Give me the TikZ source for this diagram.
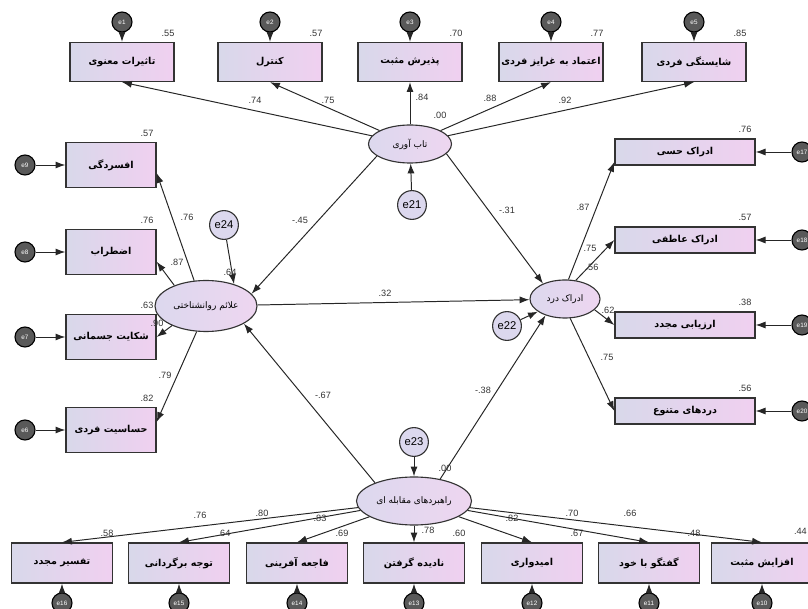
\documentclass[tikz,border=0pt]{standalone}
\usepackage{fontspec}
\setmainfont{Liberation Sans}
\newfontfamily\fafont[Script=Arabic]{DejaVu Sans}
\TeXXeTstate=1
\usetikzlibrary{arrows.meta,shapes.geometric}
\definecolor{boxl}{HTML}{D8D8EA}
\definecolor{boxr}{HTML}{F0D0F0}
\definecolor{ovl}{HTML}{DCD8EE}
\definecolor{ovr}{HTML}{EED6F0}

\tikzset{
 ind/.style={draw=black!80, line width=0.9pt, left color=boxl, right color=boxr,
   font=\fafont\bfseries\fontsize{6.8}{7}\selectfont, inner sep=1pt},
 topbox/.style={ind, minimum width=2.6cm, minimum height=0.975cm},
 leftbox/.style={ind, minimum width=2.25cm, minimum height=1.125cm},
 rightbox/.style={ind, minimum width=3.5cm, minimum height=0.65cm},
 botbox/.style={ind, minimum width=2.525cm, minimum height=1cm},
 latent/.style={ellipse, draw=black!80, line width=0.8pt, left color=ovl, right color=ovr,
   inner sep=0pt, font=\fafont\fontsize{6.4}{7}\selectfont},
 err/.style={circle, draw=black, line width=0.8pt, fill=black!65, text=white,
   minimum size=0.5cm, inner sep=0pt, font=\fontsize{4.5}{5}\selectfont},
 res/.style={circle, draw=black!80, line width=0.8pt, fill=ovl,
   minimum size=0.72cm, inner sep=0pt, font=\fontsize{8}{9}\selectfont},
 val/.style={font=\fontsize{6.5}{7}\selectfont, text=black!80, inner sep=0pt},
 link/.style={-{Latex[length=7pt,width=5pt]}, line width=0.7pt, draw=black!85}
}

\begin{document}
\begin{tikzpicture}[x=0.025cm,y=-0.025cm]
\useasboundingbox (0,0) rectangle (808,609);

% latent variables
\node[latent, minimum width=2.075cm, minimum height=0.95cm] (tl) at (410,144) {\beginR تاب آوری\endR};
\node[latent, minimum width=2.55cm, minimum height=1.275cm] (sym) at (206,306) {\beginR علائم روانشناختی\endR};
\node[latent, minimum width=1.75cm, minimum height=0.95cm] (pain) at (565,299) {\beginR ادراک درد\endR};
\node[latent, minimum width=2.875cm, minimum height=1.2cm] (cope) at (414,501) {\beginR راهبردهای مقابله ای\endR};

% residuals
\node[res] (e21) at (412,205) {e21};
\node[res] (e22) at (507,326) {e22};
\node[res] (e23) at (414,442) {e23};
\node[res] (e24) at (224,225) {e24};
\draw[link] (e21) -- (tl);
\draw[link] (e22) -- (pain);
\draw[link] (e23) -- (cope);
\draw[link] (e24) -- (sym.38);

% top indicators
\foreach \i/\x/\v/\txt in {1/122/.55/{تاثیرات معنوی},2/270/.57/{کنترل},3/410/.70/{پذیرش مثبت},
  4/551/.77/{اعتماد به غرایز فردی},5/694/.85/{شایستگی فردی}}
{
  \node[topbox] (t\i) at (\x,62) {\beginR\txt\endR};
  \node[err] (e\i) at (\x,22) {e\i};
  \draw[link] (e\i) -- (t\i);
  \draw[link] (tl) -- (t\i.south);
  \node[val] at (\x+46,33) {\v};
}

% left indicators
\foreach \i/\e/\y/\v/\txt in {1/9/165/.57/{افسردگی},2/8/252/.76/{اضطراب},
  3/7/337/.63/{شکایت جسمانی},4/6/430/.82/{حساسیت فردی}}
{
  \node[leftbox] (l\i) at (111,\y) {\beginR\txt\endR};
  \node[err] (e\e) at (25,\y) {e\e};
  \draw[link] (e\e) -- (l\i);
  \node[val] at (147,\y-32) {\v};
}
\draw[link] (sym.115) -- (l1.-10);
\draw[link] (sym.147) -- (l2.-12);
\draw[link] (sym.210) -- (l3.east);
\draw[link] (sym.250) -- (l4.10);

% right indicators
\foreach \i/\e/\y/\v/\txt in {1/17/152/.76/{ادراک حسی},2/18/240/.57/{ادراک عاطفی},
  3/19/325/.38/{ارزیابی مجدد},4/20/411/.56/{دردهای متنوع}}
{
  \node[rightbox] (r\i) at (685,\y) {\beginR\txt\endR};
  \node[err] (e\e) at (802,\y) {e\e};
  \draw[link] (e\e) -- (r\i);
  \node[val] at (745,\y-23) {\v};
}
\draw[link] (pain.80) -- (r1.188);
\draw[link] (pain.60) -- (r2.west);
\draw[link] (pain.-20) -- (r3.west);
\draw[link] (pain.-75) -- (r4.west);

% bottom indicators
\foreach \i/\e/\x/\v/\txt in {1/16/62/.58/{تفسیر مجدد},2/15/179/.64/{توجه برگردانی},
  3/14/297/.69/{فاجعه آفرینی},4/13/414/.60/{نادیده گرفتن},5/12/532/.67/{امیدواری},
  6/11/649/.48/{گفتگو با خود}}
{
  \node[botbox] (b\i) at (\x,563) {\beginR\txt\endR};
  \node[err] (e\e) at (\x,603) {e\e};
  \draw[link] (e\e) -- (b\i);
  \draw[link] (cope) -- (b\i.north);
  \node[val] at (\x+45,533) {\v};
}
\node[botbox] (b7) at (762,563) {\beginR افزایش مثبت\endR};
\node[err] (e10) at (762,603) {e10};
\draw[link] (e10) -- (b7);
\draw[link] (cope) -- (b7.north);
\node[val, anchor=east] at (807,531) {.44};

% structural paths
\draw[link] (tl.200) -- (sym.15);
\draw[link] (tl.-15) -- (pain.145);
\draw[link] (sym) -- (pain);
\draw[link] (cope.155) -- (sym.-25);
\draw[link] (cope.40) -- (pain.-140);

% coefficients
\node[val] at (255,100) {.74};
\node[val] at (328,100) {.75};
\node[val] at (422,97) {.84};
\node[val] at (440,115) {.00};
\node[val] at (490,98) {.88};
\node[val] at (565,100) {.92};
\node[val] at (300,220) {-.45};
\node[val] at (507,210) {-.31};
\node[val] at (385,293) {.32};
\node[val] at (323,395) {-.67};
\node[val] at (483,390) {-.38};
\node[val] at (445,468) {.00};
\node[val] at (230,272) {.64};
\node[val] at (187,217) {.76};
\node[val] at (177,262) {.87};
\node[val] at (157,323) {.90};
\node[val] at (165,375) {.79};
\node[val] at (583,207) {.87};
\node[val] at (590,248) {.75};
\node[val] at (592,267) {.56};
\node[val] at (608,310) {.62};
\node[val] at (607,357) {.75};
\node[val] at (200,515) {.76};
\node[val] at (262,513) {.80};
\node[val] at (320,518) {.83};
\node[val] at (428,530) {.78};
\node[val] at (512,518) {.82};
\node[val] at (572,513) {.70};
\node[val] at (630,513) {.66};
\end{tikzpicture}
\end{document}
